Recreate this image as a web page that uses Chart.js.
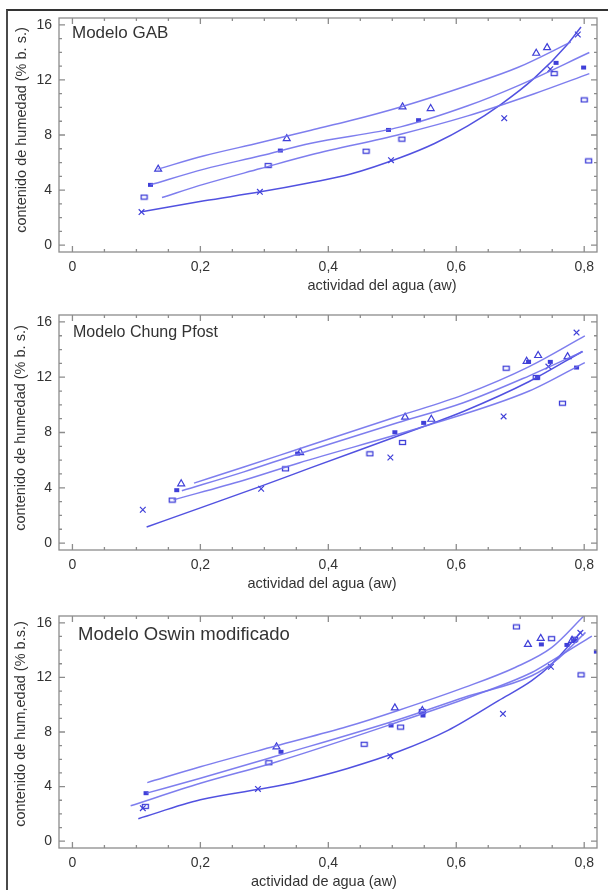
<!DOCTYPE html>
<html>
<head>
<meta charset="utf-8">
<script src="https://cdn.jsdelivr.net/npm/chart.js@4.4.1/dist/chart.umd.min.js"></script>
<style>
  html, body { margin: 0; padding: 0; background: #fff; }
  #page { position: relative; width: 608px; height: 890px; overflow: hidden; }
  #page .edge {
    position: absolute; left: 6px; top: 9px; width: 700px; height: 900px;
    border-left: 2px solid #4a4a4a; border-top: 2px solid #333;
  }
  #page canvas { position: absolute; left: 0; }
</style>
</head>
<body>
<div id="page">
  <div class="edge"></div>
  <canvas id="chart-gab" width="608" height="298" style="top:0px"></canvas>
  <canvas id="chart-cp" width="608" height="296" style="top:298px"></canvas>
  <canvas id="chart-oswin" width="608" height="296" style="top:594px"></canvas>
</div>
<script>
// ─── Data ─────────────────────────────────────────────────────────────────────

const X_TICKS = [0, 0.2, 0.4, 0.6, 0.8];
const Y_TICKS = [0, 4, 8, 12, 16];

// Modelo GAB – measured points
const gabTriX   = [0.134, 0.335, 0.516, 0.560, 0.725, 0.742];
const gabTriY   = [5.52, 7.74, 10.04, 9.92, 13.94, 14.35];
const gabFillX  = [0.122, 0.325, 0.494, 0.541, 0.756, 0.799];
const gabFillY  = [4.38, 6.87, 8.37, 9.08, 13.24, 12.90];
const gabOpenX  = [0.112, 0.306, 0.459, 0.515, 0.753, 0.800, 0.807];
const gabOpenY  = [3.49, 5.78, 6.82, 7.70, 12.46, 10.55, 6.12];
const gabCrossX = [0.108, 0.293, 0.498, 0.675, 0.747, 0.790];
const gabCrossY = [2.40, 3.87, 6.17, 9.22, 12.78, 15.30];
// Modelo GAB – fitted curves
const gabFitTriX   = [0.133, 0.206, 0.294, 0.373, 0.435, 0.513, 0.618, 0.696, 0.779];
const gabFitTriY   = [5.52, 6.49, 7.45, 8.35, 9.05, 10.04, 11.60, 12.90, 14.75];
const gabFitFillX  = [0.122, 0.206, 0.294, 0.373, 0.513, 0.618, 0.696, 0.808];
const gabFitFillY  = [4.38, 5.52, 6.49, 7.40, 8.59, 10.12, 11.57, 13.99];
const gabFitOpenX  = [0.140, 0.206, 0.294, 0.373, 0.513, 0.618, 0.722, 0.808];
const gabFitOpenY  = [3.46, 4.43, 5.56, 6.56, 8.06, 9.39, 11.00, 12.46];
const gabFitCrossX = [0.106, 0.206, 0.294, 0.373, 0.435, 0.513, 0.566, 0.618, 0.670, 0.722, 0.774, 0.795];
const gabFitCrossY = [2.40, 3.22, 3.87, 4.55, 5.16, 6.36, 7.38, 8.66, 10.23, 12.13, 14.60, 15.85];

// Modelo Chung Pfost – measured points
const cpTriX   = [0.170, 0.356, 0.520, 0.561, 0.710, 0.728, 0.774];
const cpTriY   = [4.29, 6.55, 9.11, 8.96, 13.15, 13.57, 13.49];
const cpFillX  = [0.163, 0.352, 0.504, 0.549, 0.713, 0.727, 0.747, 0.788];
const cpFillY  = [3.83, 6.48, 8.02, 8.70, 13.12, 11.98, 13.11, 12.70];
const cpOpenX  = [0.156, 0.333, 0.465, 0.516, 0.678, 0.725, 0.766];
const cpOpenY  = [3.11, 5.37, 6.46, 7.28, 12.65, 11.98, 10.12];
const cpCrossX = [0.110, 0.295, 0.497, 0.674, 0.744, 0.788];
const cpCrossY = [2.41, 3.93, 6.19, 9.16, 12.77, 15.23];
// Modelo Chung Pfost – fitted curves
const cpFitTriX   = [0.190, 0.268, 0.350, 0.508, 0.611, 0.714, 0.801];
const cpFitTriY   = [4.34, 5.50, 6.75, 9.16, 10.72, 12.77, 14.99];
const cpFitFillX  = [0.171, 0.268, 0.353, 0.508, 0.611, 0.714, 0.798];
const cpFitFillY  = [3.78, 5.15, 6.45, 8.70, 10.15, 12.10, 13.86];
const cpFitOpenX  = [0.158, 0.268, 0.354, 0.549, 0.714, 0.801];
const cpFitOpenY  = [3.13, 4.55, 5.80, 8.43, 11.00, 13.06];
const cpFitCrossX = [0.116, 0.200, 0.294, 0.371, 0.549, 0.611, 0.714, 0.797];
const cpFitCrossY = [1.16, 2.55, 4.10, 5.42, 8.43, 9.52, 11.69, 13.86];

// Modelo Oswin modificado – measured points
const osTriX   = [0.319, 0.504, 0.547, 0.712, 0.732, 0.781];
const osTriY   = [6.91, 9.77, 9.58, 14.42, 14.86, 14.72];
const osFillX  = [0.115, 0.326, 0.498, 0.548, 0.733, 0.773, 0.785, 0.819];
const osFillY  = [3.52, 6.55, 8.48, 9.21, 14.42, 14.38, 14.70, 13.89];
const osOpenX  = [0.114, 0.307, 0.456, 0.513, 0.547, 0.694, 0.749, 0.785, 0.795];
const osOpenY  = [2.55, 5.75, 7.10, 8.36, 9.50, 15.70, 14.84, 14.80, 12.19];
const osCrossX = [0.110, 0.290, 0.497, 0.673, 0.748, 0.794];
const osCrossY = [2.42, 3.83, 6.23, 9.33, 12.78, 15.27];
// Modelo Oswin modificado – fitted curves
const osFitTriX   = [0.117, 0.200, 0.316, 0.430, 0.509, 0.613, 0.692, 0.749, 0.799];
const osFitTriY   = [4.29, 5.45, 6.95, 8.40, 9.58, 11.27, 12.73, 14.18, 16.48];
const osFitFillX  = [0.116, 0.200, 0.316, 0.509, 0.613, 0.718, 0.760, 0.802];
const osFitFillY  = [3.52, 4.61, 6.20, 8.90, 10.55, 12.12, 13.40, 15.30];
const osFitOpenX  = [0.091, 0.200, 0.316, 0.509, 0.613, 0.718, 0.749, 0.812];
const osFitOpenY  = [2.59, 4.24, 5.77, 8.73, 10.42, 12.36, 13.21, 15.03];
const osFitCrossX = [0.103, 0.200, 0.316, 0.352, 0.430, 0.509, 0.587, 0.666, 0.718, 0.749, 0.796];
const osFitCrossY = [1.65, 3.03, 4.00, 4.36, 5.33, 6.55, 8.12, 10.30, 11.76, 12.97, 15.39];

// ─── Styles ───────────────────────────────────────────────────────────────────

const FONT = "'Liberation Sans', Arial, sans-serif";
const MARK = '#3f3fd8';
const FIT = 'rgba(112,112,236,0.9)';
const FIT_DARK = 'rgba(72,72,222,0.95)';
const FRAME = '#8c8c8c';
const TEXT = '#333';

function rectMarker(w, h, filled) {
  const c = document.createElement('canvas');
  c.width = w + 2;
  c.height = h + 2;
  const g = c.getContext('2d');
  if (filled) {
    g.fillStyle = MARK;
    g.fillRect(1, 1, w, h);
  } else {
    g.strokeStyle = MARK;
    g.lineWidth = 1.3;
    g.strokeRect(1.5, 1.5, w - 1, h - 1);
  }
  return c;
}

const openRect = rectMarker(7, 5, false);
const fillRect = rectMarker(5, 4, true);

const pts = (xs, ys) => xs.map((x, i) => ({ x, y: ys[i] }));

function markers(xs, ys, style) {
  const base = { data: pts(xs, ys), showLine: false, borderColor: MARK, backgroundColor: 'transparent', pointBorderWidth: 1.2 };
  if (style === 'tri') return { ...base, pointStyle: 'triangle', pointRadius: 4 };
  if (style === 'cross') return { ...base, pointStyle: 'crossRot', pointRadius: 4 };
  if (style === 'fill') return { ...base, pointStyle: fillRect, pointRadius: 3 };
  return { ...base, pointStyle: openRect, pointRadius: 4 };
}

function curve(xs, ys, color) {
  return {
    data: pts(xs, ys), showLine: true, pointRadius: 0, borderColor: color,
    borderWidth: 1.5, cubicInterpolationMode: 'monotone', fill: false,
  };
}

// ─── Frame, inward ticks and texts ────────────────────────────────────────────

const panelDecor = {
  id: 'panelDecor',
  afterDraw(chart, args, o) {
    const { ctx, chartArea: a, scales: { x, y } } = chart;
    ctx.save();
    ctx.strokeStyle = FRAME;
    ctx.lineWidth = 1.3;
    ctx.strokeRect(a.left, a.top, a.right - a.left, a.bottom - a.top);

    ctx.beginPath();
    for (let i = 0; i <= 16; i++) {
      const px = x.getPixelForValue(i * 0.05);
      const len = i % 4 === 0 ? 6 : 3;
      ctx.moveTo(px, a.bottom); ctx.lineTo(px, a.bottom - len);
      ctx.moveTo(px, a.top); ctx.lineTo(px, a.top + len);
    }
    for (let v = 0; v <= 16; v++) {
      const py = y.getPixelForValue(v);
      const len = v % 4 === 0 ? 6 : 3;
      ctx.moveTo(a.left, py); ctx.lineTo(a.left + len, py);
      ctx.moveTo(a.right, py); ctx.lineTo(a.right - len, py);
    }
    ctx.stroke();

    ctx.fillStyle = TEXT;
    ctx.textAlign = 'center';
    ctx.textBaseline = 'middle';
    ctx.font = `14.5px ${FONT}`;
    ctx.fillText(o.xTitle, o.xTitleAt[0], o.xTitleAt[1]);

    ctx.save();
    ctx.translate(o.yTitleAt[0], o.yTitleAt[1]);
    ctx.rotate(-Math.PI / 2);
    ctx.fillText(o.yTitle, 0, 0);
    ctx.restore();

    ctx.textAlign = 'left';
    ctx.font = `${o.nameSize}px ${FONT}`;
    ctx.fillText(o.name, o.nameAt[0], o.nameAt[1]);
    ctx.restore();
  },
};

// ─── Panels ───────────────────────────────────────────────────────────────────

function renderPanel(id, p, series) {
  const canvas = document.getElementById(id);
  const datasets = [
    curve(series.fitTri[0], series.fitTri[1], FIT),
    curve(series.fitFill[0], series.fitFill[1], FIT),
    curve(series.fitOpen[0], series.fitOpen[1], FIT),
    curve(series.fitCross[0], series.fitCross[1], FIT_DARK),
    markers(series.tri[0], series.tri[1], 'tri'),
    markers(series.fill[0], series.fill[1], 'fill'),
    markers(series.open[0], series.open[1], 'open'),
    markers(series.cross[0], series.cross[1], 'cross'),
  ];

  return new Chart(canvas, {
    type: 'scatter',
    data: { datasets },
    plugins: [panelDecor],
    options: {
      responsive: false,
      animation: false,
      events: [],
      layout: { padding: { top: p.frameTop, right: 11, left: 0, bottom: 0 } },
      plugins: {
        legend: { display: false },
        tooltip: { enabled: false },
        panelDecor: p,
      },
      scales: {
        x: {
          type: 'linear', min: -0.021, max: 0.82,
          grid: { display: false, drawTicks: false },
          border: { display: false },
          afterBuildTicks: (s) => { s.ticks = X_TICKS.map((value) => ({ value })); },
          afterFit: (s) => { s.height = canvas.height - p.frameBottom; },
          ticks: {
            padding: 7, color: TEXT, font: { family: FONT, size: 14 },
            callback: (v) => String(v).replace('.', ','),
          },
        },
        y: {
          type: 'linear', min: -0.5, max: 16.5,
          grid: { display: false, drawTicks: false },
          border: { display: false },
          afterBuildTicks: (s) => { s.ticks = Y_TICKS.map((value) => ({ value })); },
          afterFit: (s) => { s.width = 59; },
          ticks: { padding: 7, color: TEXT, font: { family: FONT, size: 14 } },
        },
      },
    },
  });
}

renderPanel('chart-gab', {
  frameTop: 18, frameBottom: 252,
  name: 'Modelo GAB', nameSize: 17, nameAt: [72, 33],
  xTitle: 'actividad del agua (aw)', xTitleAt: [382, 286],
  yTitle: 'contenido de humedad (% b. s.)', yTitleAt: [22, 130],
}, {
  tri: [gabTriX, gabTriY], fill: [gabFillX, gabFillY],
  open: [gabOpenX, gabOpenY], cross: [gabCrossX, gabCrossY],
  fitTri: [gabFitTriX, gabFitTriY], fitFill: [gabFitFillX, gabFitFillY],
  fitOpen: [gabFitOpenX, gabFitOpenY], fitCross: [gabFitCrossX, gabFitCrossY],
});

renderPanel('chart-cp', {
  frameTop: 17, frameBottom: 252,
  name: 'Modelo Chung Pfost', nameSize: 16, nameAt: [73, 35],
  xTitle: 'actividad del agua (aw)', xTitleAt: [322, 286],
  yTitle: 'contenido de humedad (% b. s.)', yTitleAt: [21, 130],
}, {
  tri: [cpTriX, cpTriY], fill: [cpFillX, cpFillY],
  open: [cpOpenX, cpOpenY], cross: [cpCrossX, cpCrossY],
  fitTri: [cpFitTriX, cpFitTriY], fitFill: [cpFitFillX, cpFitFillY],
  fitOpen: [cpFitOpenX, cpFitOpenY], fitCross: [cpFitCrossX, cpFitCrossY],
});

renderPanel('chart-oswin', {
  frameTop: 22, frameBottom: 254,
  name: 'Modelo Oswin modificado', nameSize: 18.5, nameAt: [78, 41],
  xTitle: 'actividad de agua (aw)', xTitleAt: [324, 288],
  yTitle: 'contenido de hum,edad (% b.s.)', yTitleAt: [21, 130],
}, {
  tri: [osTriX, osTriY], fill: [osFillX, osFillY],
  open: [osOpenX, osOpenY], cross: [osCrossX, osCrossY],
  fitTri: [osFitTriX, osFitTriY], fitFill: [osFitFillX, osFitFillY],
  fitOpen: [osFitOpenX, osFitOpenY], fitCross: [osFitCrossX, osFitCrossY],
});
</script>
</body>
</html>
